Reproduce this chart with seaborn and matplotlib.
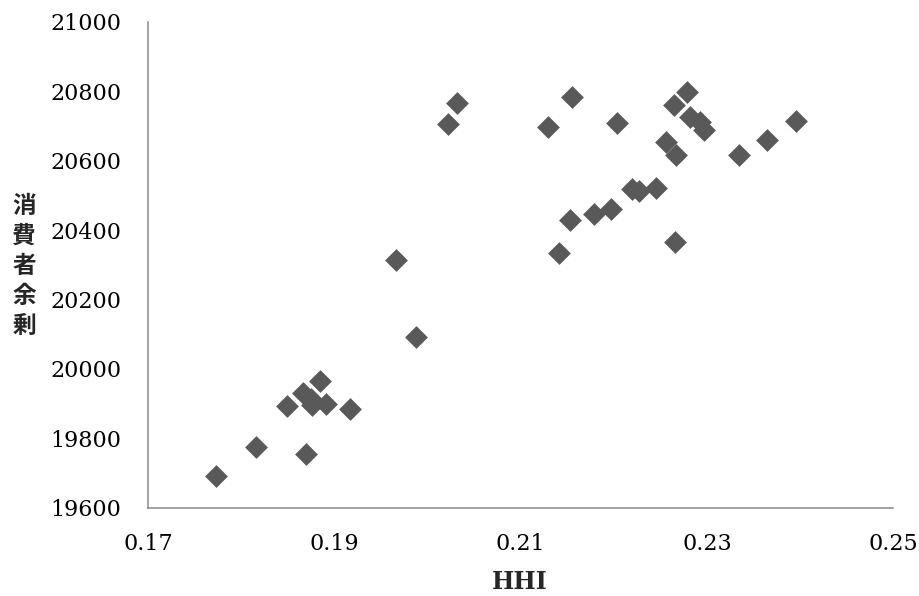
import matplotlib
matplotlib.use("Agg")
import matplotlib.pyplot as plt
import seaborn as sns
import pandas as pd

hhi = [0.1773, 0.1816, 0.1849, 0.1866, 0.1876, 0.1875, 0.1884, 0.1891, 0.1869, 0.1917,
       0.1966, 0.1987, 0.2031, 0.2022, 0.2155, 0.2129, 0.2203, 0.2278, 0.2265, 0.2282,
       0.2292, 0.2297, 0.2396, 0.2364, 0.2334, 0.2256, 0.2267, 0.2219, 0.2227, 0.2245,
       0.2197, 0.2179, 0.2153, 0.2141, 0.2266]
surplus = [19691, 19774, 19894, 19930, 19896, 19912, 19966, 19899, 19754, 19884,
           20314, 20093, 20766, 20706, 20783, 20696, 20710, 20798, 20762, 20727,
           20713, 20689, 20716, 20660, 20618, 20654, 20618, 20520, 20514, 20521,
           20462, 20447, 20429, 20334, 20367]

x_ticks = [0.17, 0.19, 0.21, 0.23, 0.25]
x_tick_labels = ["0.17", "0.19", "0.21", "0.23", "0.25"]
y_ticks = [19600, 19800, 20000, 20200, 20400, 20600, 20800, 21000]
y_tick_labels = [str(v) for v in y_ticks]

df = pd.DataFrame({"HHI": hhi, "surplus": surplus})

sns.set_theme(style="white")
plt.rcParams["font.family"] = ["DejaVu Serif"]

fig = plt.figure(figsize=(9.2, 5.96), dpi=100)
ax = fig.add_axes([148.3 / 920, 1 - 507.7 / 596, (893.3 - 148.3) / 920, (507.7 - 22) / 596])

sns.scatterplot(data=df, x="HHI", y="surplus", ax=ax, marker="D", s=135,
                color="#595959", linewidth=0, zorder=3, clip_on=False)

ax.set_xlim(0.17, 0.25)
ax.set_ylim(19600, 21000)
ax.set_xticks(x_ticks)
ax.set_xticklabels(x_tick_labels)
ax.set_yticks(y_ticks)
ax.set_yticklabels(y_tick_labels)

for side in ["top", "right"]:
    ax.spines[side].set_visible(False)
for side in ["left", "bottom"]:
    ax.spines[side].set_color("#888888")
    ax.spines[side].set_linewidth(1.1)

ax.tick_params(axis="both", which="major", direction="out", length=6.2, width=1.1,
               color="#888888", labelsize=16, labelcolor="black")
ax.tick_params(axis="y", pad=13)
ax.tick_params(axis="x", pad=12)
ax.grid(False)

ax.set_xlabel("")
ax.set_ylabel("")
fig.text(520 / 920, 1 - 582 / 596, "HHI", ha="center", va="center",
         fontsize=17, fontweight="bold", family=["DejaVu Serif"])
fig.text(24 / 920, 1 - 266 / 596, "消\n費\n者\n余\n剰", ha="center", va="center",
         fontsize=17, fontweight="bold", linespacing=1.32,
         family=["Noto Sans CJK JP", "DejaVu Sans"])

fig.savefig("out.png", dpi=100, facecolor="white")
